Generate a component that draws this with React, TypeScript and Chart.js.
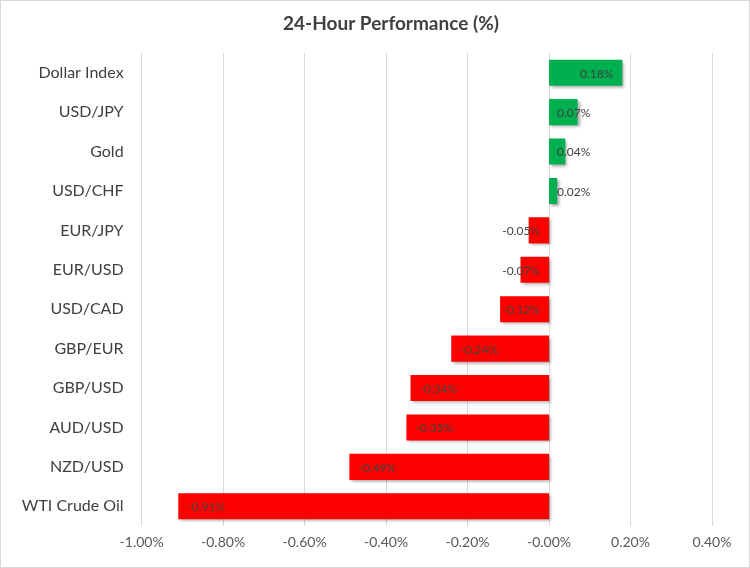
import React, { useEffect, useRef } from "react";
import { Chart, registerables } from "chart.js";

Chart.register(...registerables);

const categories = [
  "Dollar Index",
  "USD/JPY",
  "Gold",
  "USD/CHF",
  "EUR/JPY",
  "EUR/USD",
  "USD/CAD",
  "GBP/EUR",
  "GBP/USD",
  "AUD/USD",
  "NZD/USD",
  "WTI Crude Oil",
];
const values = [0.18, 0.07, 0.04, 0.02, -0.05, -0.07, -0.12, -0.24, -0.34, -0.35, -0.49, -0.91];
const titleText = "24-Hour Performance (%)";
const xMin = -1.0;
const xMax = 0.4;
const xStep = 0.2;

const FONT = "Lato, 'Open Sans', 'Liberation Sans', sans-serif";

const shadowPlugin = {
  id: "barShadow",
  beforeDatasetDraw(chart: any) {
    const ctx = chart.ctx;
    ctx.save();
    ctx.shadowColor = "rgba(0,0,0,0.35)";
    ctx.shadowBlur = 3;
    ctx.shadowOffsetX = 2;
    ctx.shadowOffsetY = 2;
  },
  afterDatasetDraw(chart: any) {
    chart.ctx.restore();
  },
};

const labelPlugin = {
  id: "barLabels",
  afterDatasetsDraw(chart: any) {
    const ctx = chart.ctx;
    const meta = chart.getDatasetMeta(0);
    const xScale = chart.scales.x;
    const zero = xScale.getPixelForValue(0);
    ctx.save();
    ctx.font = `12px ${FONT}`;
    ctx.fillStyle = "#404040";
    ctx.textBaseline = "middle";
    ctx.textAlign = "left";
    meta.data.forEach((bar: any, i: number) => {
      const v = values[i];
      const text = v.toFixed(2) + "%";
      const w = ctx.measureText(text).width;
      let left: number;
      if (v >= 0) {
        left = Math.max(bar.x - 9 - w, zero + 8);
      } else {
        left = Math.min(bar.x + 9, zero - 9 - w);
      }
      ctx.fillText(text, left, bar.y + 1);
    });
    ctx.restore();
  },
};

const titlePlugin = {
  id: "customTitle",
  afterDraw(chart: any) {
    const ctx = chart.ctx;
    ctx.save();
    ctx.font = `bold 19px ${FONT}`;
    ctx.fillStyle = "#404040";
    ctx.textAlign = "center";
    ctx.textBaseline = "middle";
    ctx.fillText(titleText, 390, 23);
    ctx.restore();
  },
};

export default function App() {
  const ref = useRef<HTMLCanvasElement | null>(null);
  useEffect(() => {
    document.body.style.margin = "0";
    if (!ref.current) return;
    const chart = new Chart(ref.current, {
      type: "bar",
      data: {
        labels: categories,
        datasets: [
          {
            data: values,
            backgroundColor: values.map((v) => (v >= 0 ? "#00B050" : "#FF0000")),
            borderWidth: 0,
            barPercentage: 0.66,
            categoryPercentage: 1,
          },
        ],
      },
      options: {
        indexAxis: "y",
        animation: false,
        responsive: false,
        maintainAspectRatio: false,
        layout: { padding: { top: 52, right: 37, left: 0, bottom: 0 } },
        plugins: {
          legend: { display: false },
          tooltip: { enabled: false },
          title: { display: false },
        },
        scales: {
          x: {
            min: xMin,
            max: xMax,
            ticks: {
              stepSize: xStep,
              color: "#595959",
              font: { size: 14, family: FONT },
              padding: 8,
              callback: (v: any) => Number(v).toFixed(2) + "%",
            },
            grid: { color: "#d9d9d9", drawTicks: false, lineWidth: 1 },
            border: { display: false },
            afterFit: (s: any) => {
              s.height = 41;
            },
          },
          y: {
            ticks: {
              color: "#404040",
              font: { size: 16, family: FONT },
              padding: 18,
            },
            grid: { display: false, drawTicks: false },
            border: { display: false },
            afterFit: (s: any) => {
              s.width = 140.6;
            },
          },
        },
      },
      plugins: [shadowPlugin, labelPlugin, titlePlugin],
    });
    return () => chart.destroy();
  }, []);
  return (
    <div
      style={{
        position: "absolute",
        left: 0,
        top: 0,
        width: 750,
        height: 568,
        boxSizing: "border-box",
        border: "1px solid #d9d9d9",
        background: "#fff",
      }}
    >
      <canvas ref={ref} width={748} height={566} style={{ display: "block" }} />
    </div>
  );
}
